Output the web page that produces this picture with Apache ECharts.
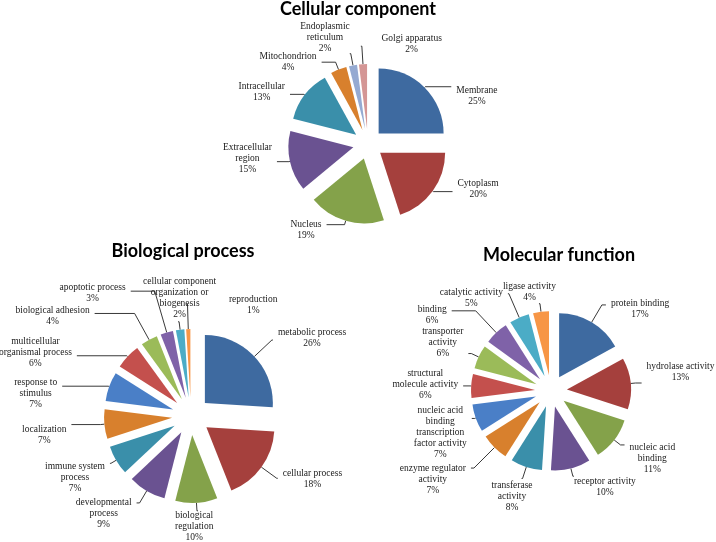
<!DOCTYPE html>
<html><head><meta charset="utf-8">
<script src="https://cdn.jsdelivr.net/npm/echarts@6/dist/echarts.min.js"></script>
<style>html,body{margin:0;padding:0;background:#fff}#c{width:716px;height:542px}</style>
</head><body><div id="c"></div>
<script>
// ---- data ----
const ccNames = ['Membrane','Cytoplasm','Nucleus','Extracellular\nregion','Intracellular','Mitochondrion','Endoplasmic\nreticulum','Golgi apparatus'];
const ccValues = [25,20,19,15,13,4,2,2];

const bpNames = ['metabolic process','cellular process','biological\nregulation','developmental\nprocess','immune system\nprocess','localization','response to\nstimulus','multicellular\norganismal process','biological adhesion','apoptotic process','cellular component\norganization or\nbiogenesis','reproduction'];
const bpValues = [26,18,10,9,7,7,7,6,4,3,2,1];

const mfNames = ['protein binding','hydrolase activity','nucleic acid\nbinding','receptor activity','transferase\nactivity','enzyme regulator\nactivity','nucleic acid\nbinding\ntranscription\nfactor activity','structural\nmolecule activity','transporter\nactivity','binding','catalytic activity','ligase activity'];
const mfValues = [17,13,11,10,8,7,7,6,6,6,5,4];

// ---- styling ----
const ccColors = ['#3E6AA0','#A5403D','#84A24A','#6A5291','#3A8FAA','#D8802D','#95AAD2','#D49695'];
const twelveColors = ['#3E6AA0','#A5403D','#84A24A','#6A5291','#3A8FAA','#D8802D','#4A7FC7','#C4504D','#9BBB59','#7F62A8','#4BACC6','#F79646'];

// label leader tuning per slice: [line length, line length2, text shift y, text shift x]
const ccLabelTune = [[1,26,9,0],[1,19,-3,0],[4,18,5,0],[1,12,-3,0],[1,14,-2,0],[8,14,0,0],[12,1,-16,5],[18,1,-2,86]];
const bpLabelTune = [[24,1,-2,0],[19,1,1,0],[8,1,16,-28],[14,3,11,0],[6,1,14,0],[4,29,10,0],[1,46,7,0],[1,50,-3,0],[30,40,3,0],[43,24,2,0],[8,1,-24,43],[25,1,1,96]];
const mfLabelTune = [[20,4,4,0],[5,6,-11,0],[8,4,14,0],[8,1,11,-5],[12,1,18,16],[29,3,11,0],[1,3,14,0],[1,7,-1,0],[8,3,-11,0],[30,24,4,0],[26,1,4,0],[8,1,-12,22]];

function mk(names, values, colors, tune){
  let cum = 0;
  const sum = values.reduce((a,b)=>a+b,0);
  return names.map((n,i)=>{
    const mid = (cum + values[i]/2) / sum; cum += values[i];
    const rightSide = Math.sin(mid*2*Math.PI) >= 0;
    const t = tune[i];
    const dy = t[2], dx = t[3];
    const padT = dy > 0 ? 2*dy : 0, padB = dy < 0 ? -2*dy : 0;
    const padL = rightSide ? dx : 0, padR = rightSide ? 0 : -dx;
    return {
      name:n, value:values[i], selected:true,
      itemStyle:{color:colors[i]},
      label:{padding:[padT,padR,padB,padL]},
      labelLine:{length:t[0], length2:t[1]}
    };
  });
}
const labelStyle = {
  show:true, position:'outside', alignTo:'none', bleedMargin:0, overflow:'none', distanceToLabelLine:5,
  fontFamily:'Liberation Serif', fontSize:9.5, lineHeight:11, color:'#1a1a1a',
  formatter: p => (p.name + '\n' + p.value + '%').split('\n').map(s => '{c|' + s + '}').join('\n'),
  rich:{ c:{ align:'center', fontFamily:'Liberation Serif', fontSize:9.5, lineHeight:11, color:'#1a1a1a' } }
};
const lineStyle = {show:true, lineStyle:{color:'#222', width:0.9}};
function pie(names, values, colors, tune, center, radius, offset){
  return {
    type:'pie', center:center, radius:radius, startAngle:90, clockwise:true,
    selectedMode:'multiple', selectedOffset:offset, avoidLabelOverlap:false,
    label:labelStyle, labelLine:lineStyle, labelLayout:{hideOverlap:false},
    emphasis:{disabled:true}, animation:false, silent:true,
    data: mk(names, values, colors, tune)
  };
}
const titleFont = {fontFamily:'Lato', fontWeight:'bold', fontSize:18, color:'#000'};
const chart = echarts.init(document.getElementById('c'));
chart.setOption({
  animation:false,
  title:[
    {text:'Cellular component', left:358, top:0, textAlign:'center', padding:0, textStyle:titleFont},
    {text:'Biological process', left:183, top:242, textAlign:'center', padding:0, textStyle:titleFont},
    {text:'Molecular function', left:559, top:246, textAlign:'center', padding:0, textStyle:titleFont}
  ],
  series:[
    pie(ccNames, ccValues, ccColors, ccLabelTune, [368,144], 65, 15),
    pie(bpNames, bpValues, twelveColors, bpLabelTune, [191,416], 68, 19),
    pie(mfNames, mfValues, twelveColors, mfLabelTune, [551,391], 64, 16)
  ]
});
</script></body></html>
